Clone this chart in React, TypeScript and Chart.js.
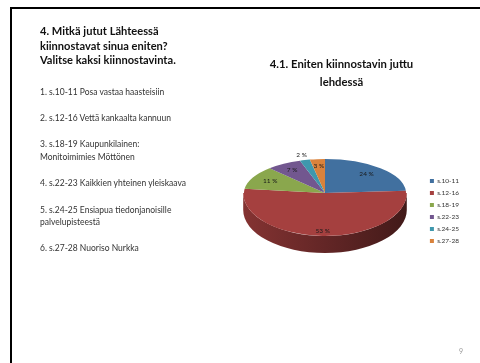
import React, { useEffect, useRef } from "react";
import { Chart, registerables } from "chart.js";

Chart.register(...registerables);

const categories = ["s.10-11", "s.12-16", "s.18-19", "s.22-23", "s.24-25", "s.27-28"];
const values = [24, 53, 11, 7, 2, 3];
const colors = ["#41709f", "#a5403f", "#8aa74d", "#72578f", "#3f98ad", "#d9823c"];
const labelRadius = [0.75, 0.88, 0.76, 0.8, 1.16, 0.8];
const chartTitle = ["4.1. Eniten kiinnostavin juttu", "lehdessä"];
const headingLines = ["4. Mitkä jutut Lähteessä", "kiinnostavat sinua eniten?", "Valitse kaksi kiinnostavinta."];
const listLines: [string, number][] = [
  ["1. s.10-11 Posa vastaa haasteisiin", 92],
  ["2. s.12-16 Vettä kankaalta kannuun", 118],
  ["3. s.18-19 Kaupunkilainen:", 144],
  ["Monitoimimies Möttönen", 157],
  ["4. s.22-23 Kaikkien yhteinen yleiskaava", 183],
  ["5. s.24-25 Ensiapua tiedonjanoisille", 210],
  ["palvelupisteestä", 222],
  ["6. s.27-28 Nuoriso Nurkka", 248],
];

const FONT = "Lato, 'Open Sans', sans-serif";
const PIE_X = 325;
const PIE_Y = 193;
const K_TOP = 0.42;
const K_BOT = 0.53;
const X_BOT = 1.01;
const DEPTH = 17;
const LEGEND_SHIFT_X = 12;
const LEGEND_SHIFT_Y = 37;

function shade(hex: string, f: number) {
  const n = parseInt(hex.slice(1), 16);
  const c = [(n >> 16) & 255, (n >> 8) & 255, n & 255].map((v) => Math.round(v * f));
  return `rgb(${c[0]},${c[1]},${c[2]})`;
}

const pie3d = {
  id: "pie3d",
  afterLayout(chart: any) {
    const l = chart.legend;
    l.left += LEGEND_SHIFT_X;
    l.right += LEGEND_SHIFT_X;
    l.top += LEGEND_SHIFT_Y;
    l.bottom += LEGEND_SHIFT_Y;
  },
  beforeDatasetDraw(chart: any) {
    const ctx = chart.ctx as CanvasRenderingContext2D;
    const meta = chart.getDatasetMeta(0);
    meta.data.forEach((arc: any, i: number) => {
      const { startAngle, endAngle, outerRadius } = arc.getProps(["startAngle", "endAngle", "outerRadius"]);
      const a = Math.max(startAngle, 0);
      const b = Math.min(endAngle, Math.PI);
      if (b <= a) return;
      const rx = outerRadius * X_BOT;
      const ry = outerRadius * K_BOT;
      const g = ctx.createLinearGradient(PIE_X - rx, 0, PIE_X + rx, 0);
      g.addColorStop(0, shade(colors[i], 0.8));
      g.addColorStop(0.5, shade(colors[i], 0.6));
      g.addColorStop(1, shade(colors[i], 0.4));
      ctx.save();
      ctx.beginPath();
      ctx.ellipse(PIE_X, PIE_Y, rx, ry, 0, a, b);
      ctx.ellipse(PIE_X, PIE_Y + DEPTH, rx, ry, 0, b, a, true);
      ctx.closePath();
      ctx.fillStyle = g;
      ctx.fill();
      ctx.restore();
    });
    const first = meta.data[0];
    const cx = first.x;
    const cy = first.y;
    const r = first.outerRadius;
    const halves: [number, number, number, number][] = [
      [PIE_Y - r, PIE_Y + 0.3, 1, K_TOP],
      [PIE_Y, PIE_Y + r, X_BOT, K_BOT],
    ];
    halves.forEach(([y0, y1, sx, sy]) => {
      ctx.save();
      ctx.beginPath();
      ctx.rect(0, y0, chart.width, y1 - y0);
      ctx.clip();
      ctx.translate(PIE_X, PIE_Y);
      ctx.scale(sx, sy);
      ctx.translate(-cx, -cy);
      meta.data.forEach((arc: any) => arc.draw(ctx));
      ctx.restore();
    });
    return false;
  },
  afterDatasetsDraw(chart: any) {
    const ctx = chart.ctx as CanvasRenderingContext2D;
    const meta = chart.getDatasetMeta(0);
    ctx.save();
    ctx.font = `6.5px ${FONT}`;
    ctx.fillStyle = "#1a1a1a";
    ctx.textAlign = "center";
    ctx.textBaseline = "middle";
    meta.data.forEach((arc: any, i: number) => {
      const { startAngle, endAngle, outerRadius } = arc.getProps(["startAngle", "endAngle", "outerRadius"]);
      const m = (startAngle + endAngle) / 2;
      const d = outerRadius * labelRadius[i];
      const s = Math.sin(m);
      const px = PIE_X + d * Math.cos(m);
      const py = PIE_Y + d * s * (s > 0 ? K_BOT : K_TOP);
      ctx.fillText(`${values[i]} %`, px, py);
    });
    ctx.restore();
  },
};

export default function App() {
  const ref = useRef<HTMLCanvasElement>(null);
  useEffect(() => {
    const chart = new Chart(ref.current!, {
      type: "pie",
      data: {
        labels: categories,
        datasets: [{ data: values, backgroundColor: colors, borderWidth: 0 }],
      },
      options: {
        responsive: false,
        animation: false,
        layout: { padding: { left: 226, right: 23, top: 56, bottom: 71 } },
        plugins: {
          tooltip: { enabled: false },
          title: {
            display: true,
            text: chartTitle,
            color: "#111",
            font: { family: FONT, size: 11.3, weight: "bold", lineHeight: 1.55 },
            padding: { top: 0, bottom: 39 },
          },
          legend: {
            position: "right",
            labels: {
              boxWidth: 4,
              boxHeight: 4,
              padding: 5.5,
              color: "#333",
              font: { family: FONT, size: 6.5 },
            },
          },
        },
      },
      plugins: [pie3d],
    } as any);
    return () => chart.destroy();
  }, []);

  const abs: React.CSSProperties = { position: "absolute", whiteSpace: "nowrap" };
  return (
    <div style={{ position: "fixed", left: 0, top: 0, width: 480, height: 363, background: "#fff", overflow: "hidden", fontFamily: FONT, filter: "blur(0.4px)" }}>
      <div style={{ ...abs, left: 10, top: 7, width: 470, height: 2, background: "#000" }} />
      <div style={{ ...abs, left: 10, top: 7, width: 2, height: 356, background: "#000" }} />
      <canvas ref={ref} width={480} height={363} style={{ position: "absolute", left: 0, top: 0 }} />
      {headingLines.map((t, i) => (
        <div key={t} style={{ ...abs, left: 40, top: 24 + i * 14.5, fontSize: 11.1, lineHeight: "14px", fontWeight: 700, color: "#111" }}>{t}</div>
      ))}
      {listLines.map(([t, y]) => (
        <div key={t} style={{ ...abs, left: 40, top: y - 6, fontSize: 8.5, lineHeight: "12px", color: "#333" }}>{t}</div>
      ))}
      <div style={{ ...abs, left: 459, top: 346, fontSize: 7, lineHeight: "10px", color: "#999" }}>9</div>
    </div>
  );
}
